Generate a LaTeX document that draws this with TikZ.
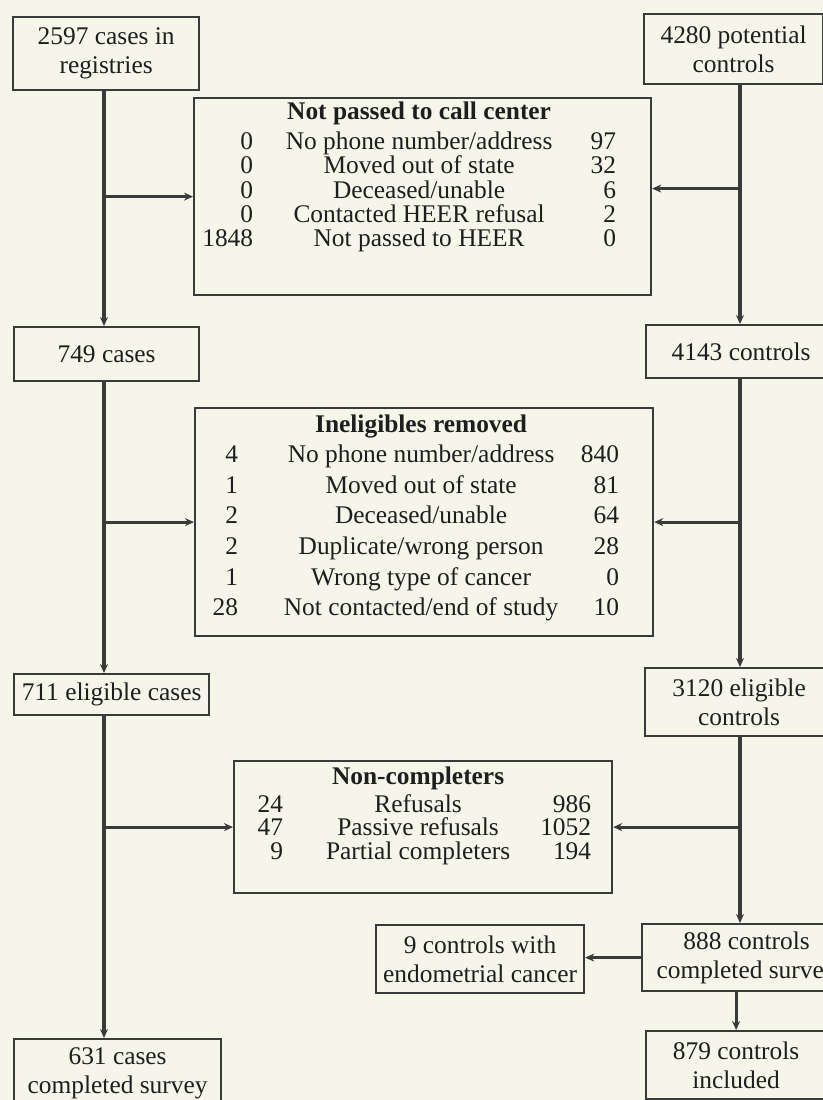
\documentclass[tikz,border=0pt]{standalone}
\usepackage{fontspec}
\setmainfont{Liberation Serif}
\usetikzlibrary{arrows.meta}

\definecolor{paper}{HTML}{F5F5E9}
\definecolor{ink}{HTML}{3A3A3A}
\definecolor{txt}{HTML}{1E1E1E}

% column widths of the count tables
\newlength\colA \newlength\colB \newlength\colC
\newcommand{\trow}[3]{\hbox to\hsize{\makebox[\colA][r]{#1}\makebox[\colB][c]{#2}\makebox[\colC][r]{#3}\hfil}}
\newcommand{\thead}[1]{\hbox to\hsize{\hskip\colA\makebox[\colB][c]{\bfseries #1}\hfil}}

\begin{document}
\begin{tikzpicture}[x=0.5pt,y=-0.5pt,
    frame/.style={draw=ink,line width=1.1pt,inner sep=0pt,text=txt,
      font=\fontsize{12.7}{14.5}\selectfont},
    box/.style={frame,align=center,anchor=north west},
    tbl/.style={frame,anchor=north west},
    link/.style={draw=ink,line width=1.6pt,-{Stealth[length=4.5pt,width=4pt]}}]
  \fill[paper] (0,0) rectangle (823,1100);
  \useasboundingbox (0,0) rectangle (823,1100);

  % cases (left) and controls (right)
  \node[box,minimum width=93pt,minimum height=36.5pt] (reg) at (12,16) {2597 cases in\\registries};
  \node[box,minimum width=89.5pt,minimum height=35pt] (pot) at (643,13) {4280 potential\\controls};
  \node[box,minimum width=92.5pt,minimum height=27pt] (c749) at (13,326) {749 cases};
  \node[box,minimum width=95pt,minimum height=26.5pt] (c4143) at (645,324) {4143 controls};
  \node[box,minimum width=97.5pt,minimum height=20.5pt] (c711) at (13,673) {711 eligible cases};
  \node[box,minimum width=94pt,minimum height=34pt] (c3120) at (644,667) {3120 eligible\\controls};
  \node[box,minimum width=104pt,minimum height=34pt] (nine) at (375,924) {9 controls with\\endometrial cancer};
  \node[box,minimum width=104.5pt,minimum height=33.5pt] (c888) at (641,923) {888 controls\\completed survey};
  \node[box,minimum width=103.5pt,minimum height=34pt] (c631) at (13,1038) {631 cases\\completed survey};
  \node[box,minimum width=90pt,minimum height=34pt] (c879) at (645,1030) {879 controls\\included};

  % removal tables
  \node[tbl,minimum width=228.5pt,text height=10.5pt,text depth=88pt] (np) at (193,97)
    {\vtop{\hsize=228.5pt\baselineskip=12.15pt\lineskiplimit=-100pt
      \setlength\colA{29.5pt}\setlength\colB{166pt}\setlength\colC{15.5pt}
      \thead{Not passed to call center}\vskip3.1pt
      \trow{0}{No phone number/address}{97}
      \trow{0}{Moved out of state}{32}
      \trow{0}{Deceased/unable}{6}
      \trow{0}{Contacted HEER refusal}{2}
      \trow{1848}{Not passed to HEER}{0}}};
  \node[tbl,minimum width=229pt,text height=12pt,text depth=102pt] (ine) at (194,407)
    {\vtop{\hsize=229pt\baselineskip=15.3pt\lineskiplimit=-100pt
      \setlength\colA{21.5pt}\setlength\colB{183pt}\setlength\colC{7.5pt}
      \thead{Ineligibles removed}
      \trow{4}{No phone number/address}{840}
      \trow{1}{Moved out of state}{81}
      \trow{2}{Deceased/unable}{64}
      \trow{2}{Duplicate/wrong person}{28}
      \trow{1}{Wrong type of cancer}{0}
      \trow{28}{Not contacted/end of study}{10}}};
  \node[tbl,minimum width=189pt,text height=11.5pt,text depth=54.5pt] (nc) at (233,760)
    {\vtop{\hsize=189pt\baselineskip=11.75pt\lineskiplimit=-100pt
      \setlength\colA{24.5pt}\setlength\colB{135pt}\setlength\colC{19pt}
      \thead{Non-completers}\vskip2.25pt
      \trow{24}{Refusals}{986}
      \trow{47}{Passive refusals}{1052}
      \trow{9}{Partial completers}{194}}};

  \coordinate (lx) at (104,0);
  \coordinate (rx) at (740,0);
  \coordinate (npr) at ([yshift=4pt]np.east);

  % left trunk
  \draw[link] (reg.south -| lx) -- (c749.north -| lx);
  \draw[link] (c749.south -| lx) -- (c711.north -| lx);
  \draw[link] (c711.south -| lx) -- (c631.north -| lx);
  \draw[link] (np.west -| lx) -- (np.west);
  \draw[link] (ine.west -| lx) -- (ine.west);
  \draw[link] (nc.west -| lx) -- (nc.west);

  % right trunk
  \draw[link] (pot.south -| rx) -- (c4143.north -| rx);
  \draw[link] (c4143.south -| rx) -- (c3120.north -| rx);
  \draw[link] (c3120.south -| rx) -- (c888.north -| rx);
  \draw[link] (npr -| rx) -- (npr);
  \draw[link] (ine.east -| rx) -- (ine.east);
  \draw[link] (nc.east -| rx) -- (nc.east);
  \draw[link] (c888.west) -- (c888.west -| nine.east);
  \draw[link] (c879.north |- c888.south) -- (c879.north);
\end{tikzpicture}
\end{document}
